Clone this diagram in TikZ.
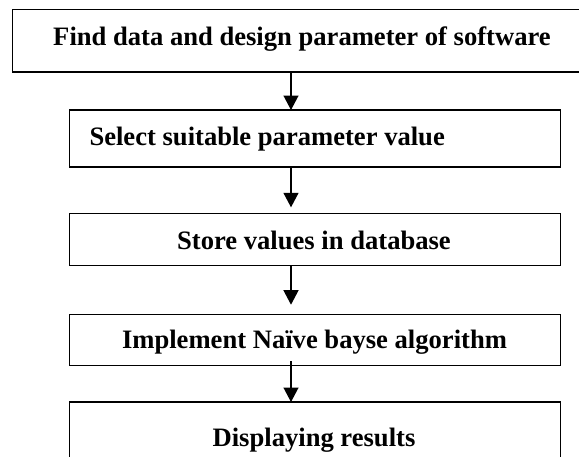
\documentclass[tikz,border=0pt]{standalone}
\usepackage{fontspec}
\setmainfont{Liberation Serif}
\usetikzlibrary{arrows.meta}
\begin{document}
\begin{tikzpicture}[x=1pt,y=-1pt,
  box/.style={draw=black, line width=1.5pt, rectangle, inner sep=0pt, outer sep=0pt},
  txt/.style={inner sep=0pt, outer sep=0pt, font=\fontsize{26.6}{32}\selectfont\bfseries},
  arr/.style={line width=1.3pt, -{Triangle[length=14.5pt,width=15pt]}}]
\clip (0,0) rectangle (579,456);
\fill[white] (0,0) rectangle (579,456);
% boxes
\node[box, minimum width=568.7pt, minimum height=62.7pt] (b1) at (296.65,40.65) {};
\node[box, minimum width=491.4pt, minimum height=57pt] (b2) at (315,138.5) {};
\node[box, minimum width=491.4pt, minimum height=52.4pt] (b3) at (315,239.5) {};
\node[box, minimum width=491.4pt, minimum height=50.6pt] (b4) at (315,340) {};
\node[box, minimum width=491.4pt, minimum height=68pt] (b5) at (315,436) {};
% texts
\node[txt, anchor=base] (t1) at (302,45) {Find data and design parameter of software};
\node[txt, anchor=base west] (t2) at (89.5,145.7) {Select suitable parameter value};
\node[txt, anchor=base] (t3) at (314,249) {Store values in database};
\node[txt, anchor=base] (t4) at (314.5,348.3) {Implement Naïve bayse algorithm};
\node[txt, anchor=base] (t5) at (314,446.7) {Displaying results};
% arrows
\coordinate (ax) at (291,0);
\draw[arr] (b1.south -| ax) -- (b2.north -| ax);
\draw[arr, shorten >=6pt] (b2.south -| ax) -- (b3.north -| ax);
\draw[arr, shorten >=10pt] (b3.south -| ax) -- (b4.north -| ax);
\draw[arr, shorten <=-4pt] (b4.south -| ax) -- (b5.north -| ax);
\end{tikzpicture}
\end{document}
